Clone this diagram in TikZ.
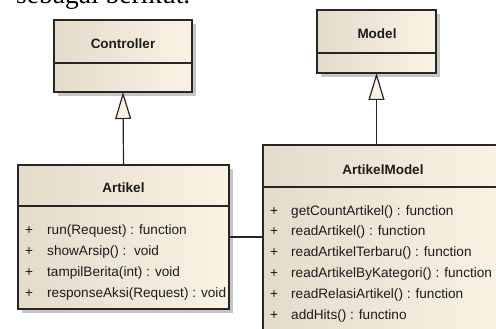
\documentclass[tikz,border=0pt]{standalone}
\usepackage{fontspec}
\setmainfont{Liberation Sans}
\newfontfamily\leadserif{Liberation Serif}
\usetikzlibrary{arrows.meta,shadows}

\definecolor{boxleft}{HTML}{E4DBCB}
\definecolor{boxright}{HTML}{FBF2E4}
\definecolor{edge}{HTML}{262626}
\definecolor{shade}{HTML}{C6C6C6}
\definecolor{ink}{HTML}{1C1C1C}

\begin{document}
\begin{tikzpicture}[x=1pt,y=-1pt,
  classbox/.style={draw=edge, line width=1.4pt, left color=boxleft, right color=boxright,
    inner sep=0pt, outer sep=0pt,
    drop shadow={shadow xshift=4pt, shadow yshift=-4pt, fill=shade, opacity=1}},
  divider/.style={draw=edge, line width=1.4pt},
  classtitle/.style={font=\bfseries\fontsize{13.5}{16}\selectfont, text=ink, inner sep=0pt, anchor=base},
  member/.style={font=\fontsize{13.6}{16}\selectfont, text=ink, inner sep=0pt, anchor=base west},
  inherit/.style={draw=edge, line width=1.2pt, -{Triangle[length=27pt,width=16pt,fill=boxright]}},
  assoc/.style={draw=edge, line width=1.2pt}
]
\useasboundingbox (0,0) rectangle (496,329);
\begin{scope}
\clip (0,0) rectangle (496,329);

% running text above the figure, only its lower edge lies inside the frame
\node[font=\leadserif\fontsize{27.5}{30}\selectfont, anchor=base west, inner sep=0pt, text=black]
  (lead) at (16,3.5) {sebagai berikut.};

% class boxes
\node[classbox, minimum width=138pt, minimum height=72pt] (ctrl) at (123,56) {};
\node[classbox, minimum width=119pt, minimum height=63pt] (model) at (376.5,41.5) {};
\node[classbox, minimum width=211pt, minimum height=144pt] (artikel) at (123.5,237) {};
\node[classbox, minimum width=240pt, minimum height=200pt] (am) at (383,245) {};

% compartment dividers
\draw[divider] (ctrl.west |- 0,63) -- (ctrl.east |- 0,63);
\draw[divider] (model.west |- 0,53) -- (model.east |- 0,53);
\draw[divider] (artikel.west |- 0,206) -- (artikel.east |- 0,206);
\draw[divider] (am.west |- 0,187) -- (am.east |- 0,187);

% class names
\node[classtitle] (ctrl-name) at (123,49) {Controller};
\node[classtitle] (model-name) at (377,39) {Model};
\node[classtitle] (artikel-name) at (123.5,192) {Artikel};
\node[classtitle] (am-name) at (383,175) {ArtikelModel};

% operations of Artikel
\foreach \op [count=\k] in {run(Request) : function, showArsip() :\ \ void,
    tampilBerita(int) : void, responseAksi(Request) : void} {
  \node[member] (artikel-v\k) at (25,{234+21*(\k-1)}) {+};
  \node[member] (artikel-op\k) at (47,{234+21*(\k-1)}) {\op};
}

% operations of ArtikelModel
\foreach \op [count=\k] in {getCountArtikel() : function, readArtikel() : function,
    readArtikelTerbaru() : function, readArtikelByKategori() : function,
    readRelasiArtikel() : function, addHits() : functino} {
  \node[member] (am-v\k) at (270,{215+20.8*(\k-1)}) {+};
  \node[member] (am-op\k) at (291,{215+20.8*(\k-1)}) {\op};
}

% relationships
\draw[inherit] (artikel.north) -- (ctrl.south);
\draw[inherit] (model.south |- am.north) -- (model.south);
\draw[assoc] (artikel.east) -- (artikel.east -| am.west);
\end{scope}
\end{tikzpicture}
\end{document}
